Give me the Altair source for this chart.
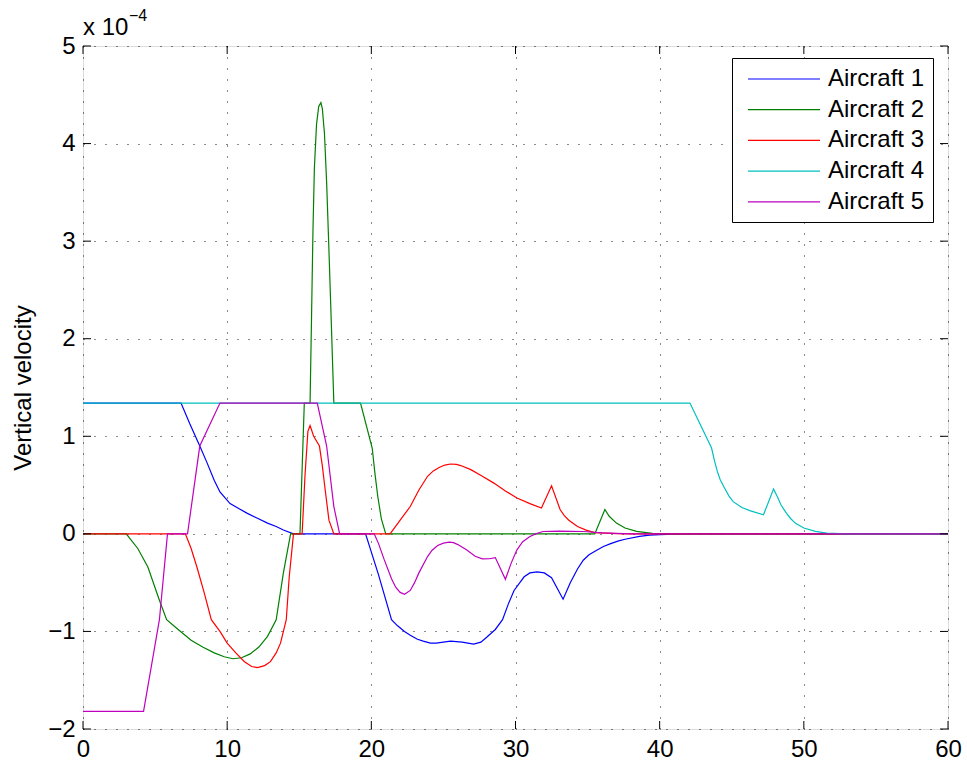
import altair as alt
import pandas as pd

names = ["Aircraft 1", "Aircraft 2", "Aircraft 3", "Aircraft 4", "Aircraft 5"]
colors = ["#0000ff", "#008000", "#ff0000", "#00bfbf", "#bf00bf"]
x_ticks = [0, 10, 20, 30, 40, 50, 60]
y_ticks = [-2, -1, 0, 1, 2, 3, 4, 5]

# values in units of 1e-4
a1_t = [0, 6.8, 7.4, 8.1, 8.6, 9.1, 9.5, 10.2, 10.8, 11.4, 12.1, 12.8, 13.4, 13.9, 14.6, 19.6,
        20.5, 21.4, 21.8, 22.3, 22.7, 23.2, 23.6, 24.1, 24.5, 25.0, 25.5, 25.9, 26.3, 26.7, 27.1,
        27.6, 28.0, 28.6, 29.1, 29.5, 29.9, 30.3, 30.6, 31.0, 31.5, 32.0, 32.5, 33.3, 33.8, 34.3,
        34.7, 35.1, 35.6, 36.1, 36.6, 37.1, 37.6, 38.6, 39.3, 40.0, 41.0, 42.0, 60]
a1_v = [1.34, 1.34, 1.13, 0.90, 0.73, 0.55, 0.43, 0.31, 0.26, 0.21, 0.16, 0.11, 0.075, 0.04, 0.0,
        0.0, -0.42, -0.88, -0.94, -1.0, -1.04, -1.08, -1.10, -1.12, -1.12, -1.11, -1.10, -1.105,
        -1.11, -1.12, -1.13, -1.11, -1.06, -0.98, -0.88, -0.72, -0.58, -0.50, -0.44, -0.40, -0.39,
        -0.40, -0.45, -0.67, -0.50, -0.36, -0.27, -0.215, -0.17, -0.13, -0.10, -0.075, -0.055,
        -0.025, -0.014, -0.008, -0.003, 0.0, 0.0]

a2_t = [0, 3.0, 3.8, 4.5, 5.3, 5.8, 6.6, 7.5, 8.3, 9.1, 9.8, 10.4, 11.0, 11.6, 12.2, 12.8, 13.4,
        13.9, 14.4, 15.05, 15.35, 15.75, 15.85, 15.95, 16.05, 16.2, 16.35, 16.5, 16.6, 16.75,
        16.9, 17.05, 17.2, 17.4, 19.25, 20.06, 20.25, 20.45, 20.7, 21.0, 35.5, 36.2, 36.5, 37.0,
        37.6, 38.4, 39.5, 41.0, 60]
a2_v = [0, 0, -0.15, -0.34, -0.68, -0.88, -0.98, -1.09, -1.16, -1.22, -1.26, -1.28, -1.27, -1.23,
        -1.16, -1.05, -0.88, -0.40, 0, 0, 1.34, 1.34, 2.2, 3.1, 3.75, 4.2, 4.38, 4.42, 4.36, 4.1,
        3.6, 2.95, 2.27, 1.34, 1.34, 0.88, 0.62, 0.38, 0.15, 0, 0, 0.25, 0.18, 0.11, 0.06, 0.025,
        0.005, 0, 0]

a3_t = [0, 7.1, 7.5, 7.9, 8.4, 8.9, 9.5, 10.0, 10.6, 11.2, 11.7, 12.1, 12.6, 13.0, 13.4, 13.7,
        14.1, 14.3, 14.6, 15.2, 15.4, 15.6, 15.75, 16.0, 16.4, 16.6, 16.8, 17.06, 17.4, 21.3,
        22.0, 22.7, 23.3, 23.9, 24.3, 24.7, 25.1, 25.5, 25.9, 26.2, 26.9, 27.7, 28.5, 29.3, 30.1,
        31.0, 31.8, 32.5, 33.1, 33.4, 33.7, 34.3, 34.9, 35.5, 37.0, 38.0, 60]
a3_v = [0, 0, -0.15, -0.34, -0.60, -0.88, -1.0, -1.12, -1.22, -1.31, -1.36, -1.37, -1.35, -1.31,
        -1.22, -1.12, -0.88, -0.45, 0, 0, 0.6, 1.05, 1.11, 1.0, 0.90, 0.70, 0.45, 0.14, 0, 0,
        0.14, 0.28, 0.45, 0.59, 0.645, 0.68, 0.705, 0.716, 0.712, 0.70, 0.658, 0.59, 0.52, 0.44,
        0.367, 0.31, 0.264, 0.493, 0.247, 0.185, 0.14, 0.075, 0.038, 0.013, 0.002, 0, 0]

a4_t = [0, 42.1, 43.6, 43.8, 44.0, 44.2, 44.5, 44.8, 45.1, 45.7, 46.3, 47.2, 47.9, 48.2, 48.4,
        48.8, 49.1, 49.4, 50.0, 50.8, 51.6, 53.0, 60]
a4_v = [1.34, 1.34, 0.88, 0.75, 0.64, 0.555, 0.47, 0.39, 0.33, 0.27, 0.236, 0.195, 0.459, 0.37,
        0.30, 0.21, 0.155, 0.11, 0.06, 0.025, 0.007, 0, 0]

a5_t = [0, 4.2, 5.3, 5.86, 7.25, 8.1, 9.5, 16.25, 16.9, 17.4, 17.8, 20.2, 20.5, 20.9, 21.4, 21.7,
        22.0, 22.3, 22.7, 23.0, 23.3, 23.9, 24.2, 24.6, 25.0, 25.4, 25.7, 26.0, 26.6, 27.2, 27.7,
        28.2, 28.6, 29.3, 29.7, 30.1, 30.5, 31.0, 31.4, 31.9, 33.0, 34.7, 36.0, 38.0, 60]
a5_v = [-1.82, -1.82, -0.88, 0, 0, 0.90, 1.34, 1.34, 0.90, 0.28, 0, 0, -0.10, -0.267, -0.46,
        -0.55, -0.60, -0.62, -0.58, -0.50, -0.40, -0.233, -0.17, -0.12, -0.095, -0.085, -0.09,
        -0.11, -0.164, -0.23, -0.257, -0.255, -0.243, -0.466, -0.30, -0.164, -0.08, -0.027, 0.0,
        0.024, 0.028, 0.024, 0.01, 0, 0]

series = [(a1_t, a1_v), (a2_t, a2_v), (a3_t, a3_v), (a4_t, a4_v), (a5_t, a5_v)]
rows = []
for name, (ts, vs) in zip(names, series):
    for i, (t, v) in enumerate(zip(ts, vs)):
        rows.append({"series": name, "t": t, "v": v, "idx": i})
df = pd.DataFrame(rows)

W, H = 865, 683
FONT = "Liberation Sans"

xscale = alt.Scale(domain=[0, 60], nice=False, zero=False)
yscale = alt.Scale(domain=[-2, 5], nice=False, zero=False)

xaxis = alt.Axis(values=x_ticks, grid=True, gridDash=[1, 10], gridColor="black",
                 gridOpacity=0.9, ticks=False, domain=False, labelFontSize=24,
                 labelPadding=8, title=None, labelColor="black", labelFont=FONT,
                 labelFlush=False, labelOverlap=False)
yaxis = alt.Axis(values=y_ticks, grid=True, gridDash=[1, 10], gridColor="black",
                 gridOpacity=0.9, ticks=False, domain=False, labelFontSize=24,
                 labelPadding=8, labelColor="black", labelFont=FONT,
                 labelFlush=False, labelOverlap=False,
                 title="Vertical velocity", titleFontSize=24, titleFont=FONT,
                 titleFontWeight="normal", titleColor="black", titleX=-60,
                 titleY=H / 2, titleAngle=-90, titleAlign="center",
                 titleBaseline="middle")

lines = alt.Chart(df).mark_line(strokeWidth=1.2, clip=True).encode(
    x=alt.X("t:Q", scale=xscale, axis=xaxis),
    y=alt.Y("v:Q", scale=yscale, axis=yaxis),
    color=alt.Color("series:N", scale=alt.Scale(domain=names, range=colors),
                    legend=alt.Legend(title=None, orient="none", legendX=649, legendY=12,
                                      symbolType="M-3,0H3", symbolSize=576,
                                      symbolStrokeWidth=1.2, symbolOffset=31, labelOffset=31,
                                      padding=8, rowPadding=5.7, labelFontSize=24,
                                      labelFont=FONT, labelColor="black",
                                      strokeColor="black", fillColor="white",
                                      cornerRadius=0, labelLimit=0)),
    order="idx:Q",
)

xt = pd.DataFrame({"t": x_ticks})
yt = pd.DataFrame({"v": y_ticks})
tick_len = 8
xb = alt.Chart(xt).mark_rule(color="black", strokeWidth=1).encode(
    x=alt.X("t:Q", scale=xscale, axis=xaxis), y=alt.value(H), y2=alt.value(H - tick_len))
xtop = alt.Chart(xt).mark_rule(color="black", strokeWidth=1).encode(
    x=alt.X("t:Q", scale=xscale, axis=xaxis), y=alt.value(0), y2=alt.value(tick_len))
yl = alt.Chart(yt).mark_rule(color="black", strokeWidth=1).encode(
    y=alt.Y("v:Q", scale=yscale, axis=yaxis), x=alt.value(0), x2=alt.value(tick_len))
yr = alt.Chart(yt).mark_rule(color="black", strokeWidth=1).encode(
    y=alt.Y("v:Q", scale=yscale, axis=yaxis), x=alt.value(W), x2=alt.value(W - tick_len))

exp_base = alt.Chart(pd.DataFrame({"s": ["x 10"]})).mark_text(
    align="left", baseline="alphabetic", fontSize=24, font=FONT, color="black").encode(
    text="s:N", x=alt.value(0), y=alt.value(-11))
exp_sup = alt.Chart(pd.DataFrame({"s": ["\u22124"]})).mark_text(
    align="left", baseline="alphabetic", fontSize=16, font=FONT, color="black").encode(
    text="s:N", x=alt.value(46), y=alt.value(-25))

chart = alt.layer(lines, xb, xtop, yl, yr, exp_base, exp_sup).properties(
    width=W, height=H,
    autosize=alt.AutoSizeParams(type="none"),
    padding={"left": 83, "top": 46, "right": 19, "bottom": 38},
).configure_view(stroke="black", strokeWidth=1.5).configure(background="white")

chart.save("out.html", embed_options={"renderer": "svg", "actions": False})
